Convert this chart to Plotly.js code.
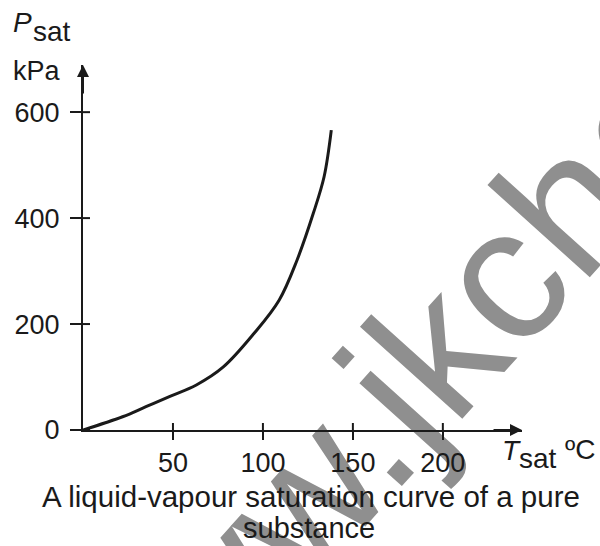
<!DOCTYPE html>
<html>
<head>
<meta charset="utf-8">
<script src="https://cdn.plot.ly/plotly-3.0.1.min.js"></script>
<style>
html,body{margin:0;padding:0;background:#fff;}
#wrap{position:relative;width:600px;height:546px;overflow:hidden;}
#wm,#chart{position:absolute;left:0;top:0;width:600px;height:546px;}
</style>
</head>
<body>
<div id="wrap"><div id="wm"></div><div id="chart"></div></div>
<script>
// Saturation temperature (°C) and pressure (kPa)
const tSat = [0, 22, 35, 48, 63, 78, 95, 109, 119, 128, 134, 138];
const pSat = [0, 25, 44, 63, 85, 119, 182, 245, 321, 409, 478, 566];
const xTicks = [50, 100, 150, 200];
const xTickText = ['50', '100', '150', '200'];
const yTicks = [0, 200, 400, 600];
const yTickText = ['0', '200', '400', '600'];
const captionLines = ['A liquid-vapour saturation curve of a pure', 'substance'];
const watermark = 'www.jkchemistry.com';

const W = 600, H = 546;
const L = 83, R = 78, T = 65, B = 116;
const pw = W - L - R, ph = H - T - B;
const px = X => (X - L) / pw;
const py = Y => (H - B - Y) / ph;
const FONT = 'Liberation Sans, Arial, sans-serif';
const INK = '#1a1a1a';

// background layer: the grey watermark lying under the figure
Plotly.newPlot('wm', [], {
  width: W, height: H, margin: {l: L, r: R, t: T, b: B, pad: 0},
  paper_bgcolor: '#fff', plot_bgcolor: '#fff', showlegend: false,
  xaxis: {visible: false}, yaxis: {visible: false},
  annotations: [{text: watermark, xref: 'paper', yref: 'paper', x: px(675), y: py(84), xanchor: 'center', yanchor: 'middle',
    textangle: -48, showarrow: false, font: {family: FONT, size: 190, color: '#8f8f8f'}}]
}, {displayModeBar: false, staticPlot: true});

const trace = {
  x: tSat, y: pSat, mode: 'lines', type: 'scatter',
  line: {color: INK, width: 3, shape: 'spline', smoothing: 1},
  hoverinfo: 'skip'
};

const shapes = [];
// inner halves of the crossing tick marks
xTicks.forEach(v => shapes.push({type: 'line', xref: 'x', yref: 'paper', x0: v, x1: v, y0: 0, y1: 7 / ph, line: {color: INK, width: 2}}));
yTicks.forEach(v => shapes.push({type: 'line', xref: 'paper', yref: 'y', x0: 0, x1: 7 / pw, y0: v, y1: v, line: {color: INK, width: 2}}));

const annotations = [
  // axis arrows
  {xref: 'paper', yref: 'paper', x: 1, y: 0, ax: -30, ay: 0, text: '', showarrow: true, arrowhead: 2, arrowsize: 1.2, arrowwidth: 2, arrowcolor: INK},
  {xref: 'paper', yref: 'paper', x: 0, y: 1, ax: 0, ay: 30, text: '', showarrow: true, arrowhead: 2, arrowsize: 1.2, arrowwidth: 2, arrowcolor: INK},
  // y axis label
  {text: '<i>P</i>', xref: 'paper', yref: 'paper', x: px(11), y: py(40), xanchor: 'left', yanchor: 'bottom', showarrow: false, font: {family: FONT, size: 28, color: INK}},
  {text: 'sat', xref: 'paper', yref: 'paper', x: px(31), y: py(49), xanchor: 'left', yanchor: 'bottom', showarrow: false, font: {family: FONT, size: 28, color: INK}},
  {text: 'kPa', xref: 'paper', yref: 'paper', x: px(11), y: py(88), xanchor: 'left', yanchor: 'bottom', showarrow: false, font: {family: FONT, size: 27, color: INK}},
  // x axis label
  {text: '<i>T</i>', xref: 'paper', yref: 'paper', x: px(500), y: py(468), xanchor: 'left', yanchor: 'bottom', showarrow: false, font: {family: FONT, size: 28, color: INK}},
  {text: 'sat', xref: 'paper', yref: 'paper', x: px(517), y: py(476), xanchor: 'left', yanchor: 'bottom', showarrow: false, font: {family: FONT, size: 28, color: INK}},
  {text: 'ºC', xref: 'paper', yref: 'paper', x: px(563), y: py(467), xanchor: 'left', yanchor: 'bottom', showarrow: false, font: {family: FONT, size: 28, color: INK}},
  // caption
  {text: captionLines[0], xref: 'paper', yref: 'paper', x: px(311), y: py(496), xanchor: 'center', yanchor: 'middle', showarrow: false, font: {family: FONT, size: 29.5, color: INK}},
  {text: captionLines[1], xref: 'paper', yref: 'paper', x: px(309), y: py(528), xanchor: 'center', yanchor: 'middle', showarrow: false, borderpad: 0, font: {family: FONT, size: 29, color: INK}}
];

const layout = {
  width: W, height: H,
  margin: {l: L, r: R, t: T, b: B, pad: 0},
  paper_bgcolor: 'rgba(0,0,0,0)', plot_bgcolor: 'rgba(0,0,0,0)',
  showlegend: false,
  xaxis: {range: [0, 244], showgrid: false, zeroline: false, showline: true, linecolor: INK, linewidth: 2,
          tickvals: xTicks, ticktext: xTickText, ticks: 'outside', ticklen: 8, tickwidth: 2, tickcolor: INK,
          tickfont: {family: FONT, size: 27, color: INK}, fixedrange: true},
  yaxis: {range: [0, 689], showgrid: false, zeroline: false, showline: true, linecolor: INK, linewidth: 2,
          tickvals: yTicks, ticktext: yTickText, ticks: 'outside', ticklen: 11, tickwidth: 2, tickcolor: INK,
          ticklabelstandoff: 5,
          tickfont: {family: FONT, size: 27, color: INK}, fixedrange: true},
  shapes: shapes,
  annotations: annotations
};

Plotly.newPlot('chart', [trace], layout, {displayModeBar: false, staticPlot: true});
</script>
</body>
</html>
